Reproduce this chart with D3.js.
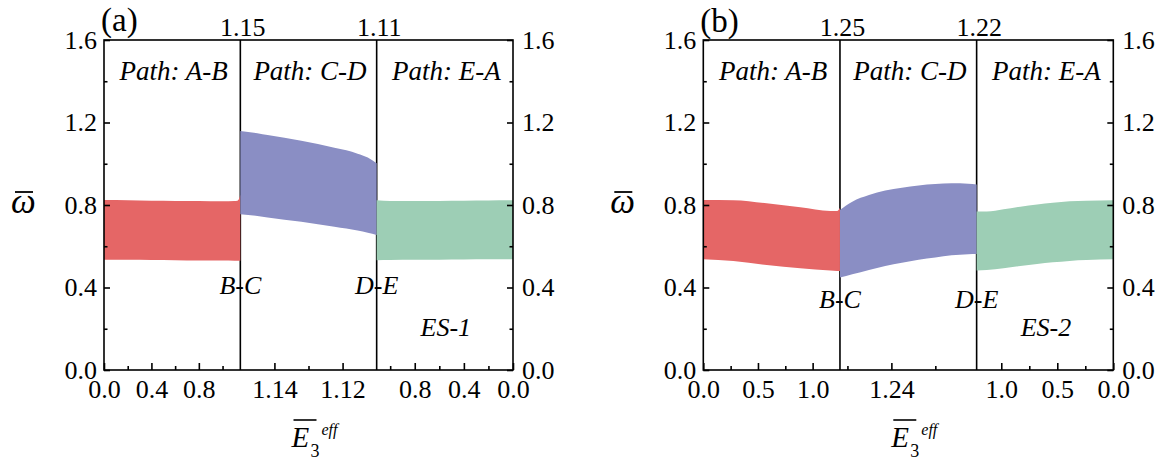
<!DOCTYPE html>
<html>
<head>
<meta charset="utf-8">
<script src="https://cdn.jsdelivr.net/npm/d3@7/dist/d3.min.js"></script>
<style>
  body { margin: 0; background: #fff; }
  svg text { font-family: "Liberation Serif", "DejaVu Serif", "Noto Serif", serif; fill: #000; }
</style>
</head>
<body>
<svg id="chart" width="1165" height="461"></svg>
<script>
// ---- labels ----
const panelLabels = ["(a)", "(b)"];
const pathLabels = ["Path: A-B", "Path: C-D", "Path: E-A"];
const joinLabels = ["B-C", "D-E"];
const stateLabels = ["ES-1", "ES-2"];
const bandColors = ["#e56666", "#8a8ec4", "#9dceb5"];

// ---- y axis ----
const yDomain = [0, 1.6];
const yMajor = [0, 0.4, 0.8, 1.2, 1.6];
const yMajorText = ["0.0", "0.4", "0.8", "1.2", "1.6"];
const yMinor = [0.2, 0.6, 1.0, 1.4];

// ---- panel (a): ES-1 ----
const aDomains = [[0, 1.15], [1.15, 1.11], [1.11, 0]];
const aJoinText = ["1.15", "1.11"];
const aMajor = [[0, 0.4, 0.8], [1.14, 1.12], [0.8, 0.4, 0]];
const aMajorText = [["0.0", "0.4", "0.8"], ["1.14", "1.12"], ["0.8", "0.4", "0.0"]];
const aMinor = [[0.2, 0.6, 1.0], [1.13], [1.0, 0.6, 0.2]];

const aE1   = [0, 0.2, 0.4, 0.6, 0.8, 1.0, 1.1, 1.125, 1.14, 1.15];
const aTop1 = [0.824, 0.823, 0.821, 0.820, 0.819, 0.818, 0.819, 0.821, 0.832, 0.848];
const aBot1 = [0.535, 0.534, 0.533, 0.532, 0.531, 0.531, 0.530, 0.530, 0.530, 0.530];

const aE2   = [1.15, 1.145, 1.142, 1.1321, 1.1224, 1.1189, 1.1156, 1.1126, 1.11];
const aTop2 = [1.159, 1.148, 1.139, 1.112, 1.078, 1.065, 1.049, 1.030, 1.002];
const aBot2 = [0.755, 0.747, 0.740, 0.719, 0.695, 0.686, 0.676, 0.666, 0.655];

const aE3   = [1.11, 1.0, 0.8, 0.6, 0.4, 0.2, 0];
const aTop3 = [0.823, 0.819, 0.819, 0.820, 0.821, 0.822, 0.823];
const aBot3 = [0.532, 0.533, 0.534, 0.535, 0.536, 0.537, 0.537];

// ---- panel (b): ES-2 ----
const bDomains = [[0, 1.25], [1.2517, 1.2206], [1.22, 0]];
const bJoinText = ["1.25", "1.22"];
const bMajor = [[0, 0.5, 1.0], [1.24], [1.0, 0.5, 0]];
const bMajorText = [["0.0", "0.5", "1.0"], ["1.24"], ["1.0", "0.5", "0.0"]];
const bMinor = [[0.25, 0.75], [1.25, 1.23], [0.75, 0.25]];

const bE1   = [0, 0.275, 0.58, 0.887, 1.162, 1.224, 1.25];
const bTop1 = [0.824, 0.823, 0.808, 0.789, 0.771, 0.771, 0.787];
const bBot1 = [0.537, 0.528, 0.509, 0.493, 0.482, 0.480, 0.480];

const bE2   = [1.2517, 1.2489, 1.2451, 1.2414, 1.2376, 1.2338, 1.2300, 1.2263, 1.2225, 1.2206];
const bTop2 = [0.776, 0.816, 0.848, 0.870, 0.884, 0.895, 0.902, 0.905, 0.903, 0.900];
const bBot2 = [0.448, 0.464, 0.485, 0.504, 0.520, 0.535, 0.546, 0.556, 0.561, 0.562];

const bE3   = [1.22, 1.13, 0.98, 0.83, 0.68, 0.54, 0.39, 0.24, 0];
const bTop3 = [0.768, 0.768, 0.779, 0.792, 0.803, 0.811, 0.818, 0.821, 0.823];
const bBot3 = [0.482, 0.485, 0.493, 0.504, 0.514, 0.522, 0.529, 0.533, 0.537];

// ---- layout ----
const plotTop = 40, plotBottom = 370;
const FONT = '"Liberation Serif", "DejaVu Serif", "Noto Serif", serif';
const TICK_SIZE = 26;
const zip = (E, top, bot) => E.map((e, i) => ({ e, top: top[i], bot: bot[i] }));

const panels = [
  { left: 104, right: 513, label: panelLabels[0], state: stateLabels[0],
    domains: aDomains, joinText: aJoinText, major: aMajor, majorText: aMajorText, minor: aMinor,
    bands: [zip(aE1, aTop1, aBot1), zip(aE2, aTop2, aBot2), zip(aE3, aTop3, aBot3)],
    joinDy: 6, labelY: 31 },
  { left: 703.3, right: 1113.3, label: panelLabels[1], state: stateLabels[1],
    domains: bDomains, joinText: bJoinText, major: bMajor, majorText: bMajorText, minor: bMinor,
    bands: [zip(bE1, bTop1, bBot1), zip(bE2, bTop2, bBot2), zip(bE3, bTop3, bBot3)],
    joinDy: 20, labelY: 32 }
];

const svg = d3.select("#chart");
const y = d3.scaleLinear().domain(yDomain).range([plotBottom, plotTop]);
const LW = 1.6;

function styleAxis(g) {
  g.attr("font-family", FONT);
  g.select(".domain").remove();
  g.selectAll(".tick line").attr("stroke", "#000").attr("stroke-width", LW);
  g.selectAll(".tick text").attr("fill", "#000")
    .style("font-family", FONT).style("font-size", TICK_SIZE + "px");
}

function label(g, x, yPos, size, txt, italic, anchor) {
  return g.append("text").attr("x", x).attr("y", yPos)
    .attr("text-anchor", anchor || "start")
    .style("font-family", FONT).style("font-size", size + "px")
    .style("font-style", italic ? "italic" : "normal").text(txt);
}

panels.forEach(p => {
  const g = svg.append("g");
  const sw = (p.right - p.left) / 3;
  const xs = p.domains.map((dom, i) =>
    d3.scaleLinear().domain(dom).range([p.left + i * sw, p.left + (i + 1) * sw]));
  const dividers = [p.left + sw, p.left + 2 * sw];

  // section dividers
  dividers.forEach(dx => {
    g.append("line").attr("x1", dx).attr("x2", dx).attr("y1", plotTop).attr("y2", plotBottom)
      .attr("stroke", "#000").attr("stroke-width", LW);
  });

  // frequency bands
  p.bands.forEach((data, i) => {
    const area = d3.area()
      .x(d => xs[i](d.e))
      .y0(d => y(d.bot))
      .y1(d => y(d.top))
      .curve(d3.curveMonotoneX);
    g.append("path").datum(data).attr("d", area).attr("fill", bandColors[i]);
  });

  // frame
  g.append("rect").attr("x", p.left).attr("y", plotTop)
    .attr("width", p.right - p.left).attr("height", plotBottom - plotTop)
    .attr("fill", "none").attr("stroke", "#000").attr("stroke-width", LW);

  // bottom axes, one per section
  xs.forEach((xs_i, i) => {
    g.append("g").attr("transform", `translate(0,${plotBottom})`)
      .call(d3.axisBottom(xs_i).tickValues(p.major[i])
        .tickFormat((d, j) => p.majorText[i][j])
        .tickSizeInner(-7).tickSizeOuter(0).tickPadding(10))
      .call(styleAxis);
    g.append("g").attr("transform", `translate(0,${plotBottom})`)
      .call(d3.axisBottom(xs_i).tickValues(p.minor[i]).tickFormat("")
        .tickSizeInner(-4).tickSizeOuter(0))
      .call(styleAxis);
  });

  // left and right y axes
  g.append("g").attr("transform", `translate(${p.left},0)`)
    .call(d3.axisLeft(y).tickValues(yMajor).tickFormat((d, j) => yMajorText[j])
      .tickSizeInner(-6).tickSizeOuter(0).tickPadding(7))
    .call(styleAxis);
  g.append("g").attr("transform", `translate(${p.left},0)`)
    .call(d3.axisLeft(y).tickValues(yMinor).tickFormat("").tickSizeInner(-3.5).tickSizeOuter(0))
    .call(styleAxis);
  g.append("g").attr("transform", `translate(${p.right},0)`)
    .call(d3.axisRight(y).tickValues(yMajor).tickFormat((d, j) => yMajorText[j])
      .tickSizeInner(-6).tickSizeOuter(0).tickPadding(9))
    .call(styleAxis);
  g.append("g").attr("transform", `translate(${p.right},0)`)
    .call(d3.axisRight(y).tickValues(yMinor).tickFormat("").tickSizeInner(-3.5).tickSizeOuter(0))
    .call(styleAxis);

  // switching values above the dividers
  dividers.forEach((dx, i) => label(g, dx + 2.5, 36, 26, p.joinText[i], false, "middle"));

  // path names
  pathLabels.forEach((t, i) => label(g, p.left + (i + 0.5) * sw + 1.5, 80, 27, t, true, "middle"));

  // junction labels on the dividers
  dividers.forEach((dx, i) => label(g, dx, y(0.4) + p.joinDy, 26, joinLabels[i], true, "middle"));

  // state name
  label(g, p.left + 2.5 * sw + 1, 336, 26, p.state, true, "middle");

  // panel label
  label(g, p.left - 3, p.labelY, 33, p.label, false);

  // y label: omega with bar
  const ox = p.left - 93;
  label(g, ox, 213, 35, "ω", true);
  g.append("line").attr("x1", ox + 4).attr("x2", ox + 22).attr("y1", 192).attr("y2", 192)
    .attr("stroke", "#000").attr("stroke-width", 1.8);

  // x label: E with bar, subscript 3, superscript eff
  const cx = (p.left + p.right) / 2;
  label(g, cx - 17, 447, 29, "E", true);
  g.append("line").attr("x1", cx - 15).attr("x2", cx + 8).attr("y1", 420).attr("y2", 420)
    .attr("stroke", "#000").attr("stroke-width", 1.6);
  label(g, cx + 2, 457, 18, "3", false);
  label(g, cx + 13, 435, 16, "eff", true);
});
</script>
</body>
</html>
